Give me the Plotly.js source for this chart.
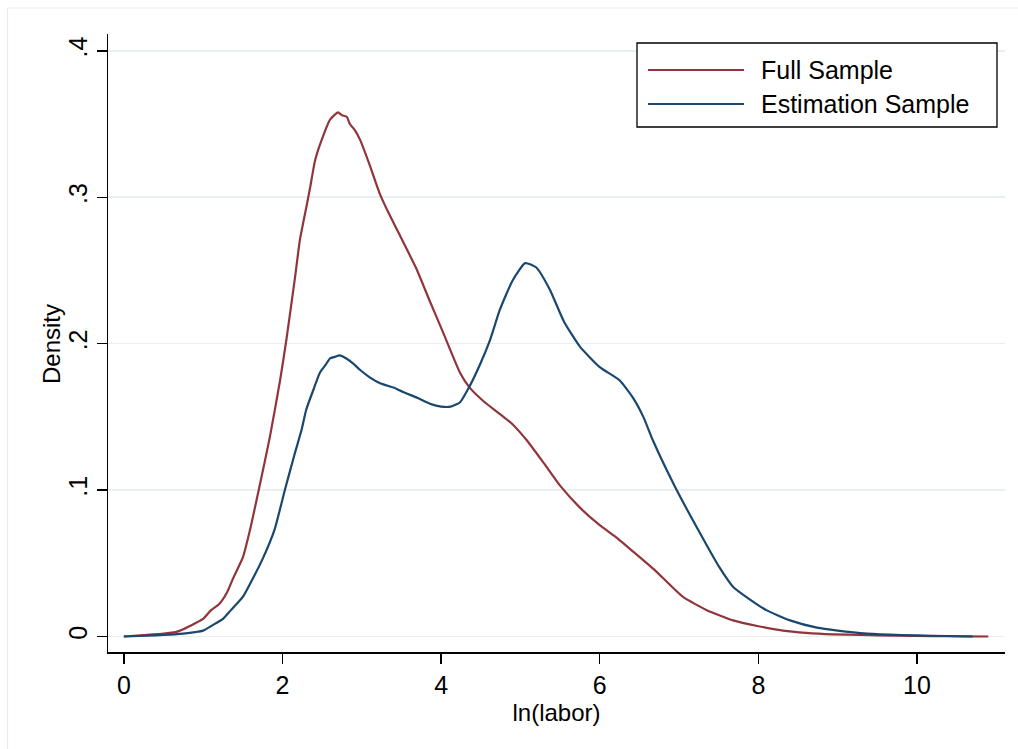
<!DOCTYPE html>
<html>
<head>
<meta charset="utf-8">
<script src="https://cdn.plot.ly/plotly-3.0.1.min.js"></script>
<style>html,body{margin:0;padding:0;background:#fff;}#chart{width:1018px;height:749px;}</style>
</head>
<body>
<div id="chart"></div>
<script>
// ---- data ----
const seriesNames = ["Full Sample", "Estimation Sample"];
const xTitle = "ln(labor)";
const yTitle = "Density";

const fullX = [0, 0.25, 0.5, 0.65, 0.75, 0.9, 1.0, 1.1, 1.2, 1.3, 1.38, 1.5, 1.6, 1.72, 1.84, 1.97, 2.05, 2.16, 2.22, 2.3, 2.35, 2.41, 2.5, 2.6, 2.7, 2.75, 2.81, 2.85, 2.91, 2.98, 3.1, 3.23, 3.35, 3.48, 3.69, 3.85, 4.03, 4.24, 4.36, 4.55, 4.74, 4.9, 5.08, 5.3, 5.5, 5.75, 6.0, 6.2, 6.42, 6.7, 7.05, 7.35, 7.68, 8.0, 8.31, 8.6, 8.94, 9.3, 9.7, 10.2, 10.6, 10.9];
const fullY = [0, 0.001, 0.002, 0.003, 0.005, 0.009, 0.012, 0.018, 0.022, 0.03, 0.04, 0.054, 0.075, 0.105, 0.136, 0.175, 0.203, 0.246, 0.271, 0.293, 0.307, 0.325, 0.340, 0.353, 0.358, 0.356, 0.355, 0.350, 0.346, 0.339, 0.322, 0.302, 0.288, 0.274, 0.251, 0.230, 0.207, 0.180, 0.170, 0.160, 0.152, 0.145, 0.134, 0.118, 0.103, 0.088, 0.076, 0.068, 0.058, 0.045, 0.027, 0.018, 0.011, 0.007, 0.004, 0.0025, 0.0015, 0.001, 0.0005, 0.0002, 0.0001, 0];

const estX = [0, 0.3, 0.5, 0.75, 0.9, 1.0, 1.16, 1.25, 1.35, 1.5, 1.63, 1.75, 1.9, 2.03, 2.15, 2.24, 2.3, 2.4, 2.47, 2.55, 2.6, 2.66, 2.72, 2.8, 2.9, 2.98, 3.1, 3.23, 3.4, 3.52, 3.7, 3.86, 4.0, 4.12, 4.24, 4.36, 4.5, 4.62, 4.74, 4.9, 5.06, 5.2, 5.37, 5.55, 5.75, 6.0, 6.25, 6.42, 6.55, 6.67, 6.97, 7.26, 7.5, 7.68, 7.9, 8.1, 8.4, 8.74, 9.0, 9.37, 9.8, 10.2, 10.7];
const estY = [0, 0.0005, 0.001, 0.002, 0.003, 0.004, 0.009, 0.012, 0.018, 0.027, 0.04, 0.053, 0.073, 0.100, 0.124, 0.141, 0.155, 0.170, 0.180, 0.186, 0.190, 0.191, 0.192, 0.190, 0.186, 0.182, 0.177, 0.173, 0.170, 0.167, 0.163, 0.159, 0.157, 0.157, 0.160, 0.171, 0.187, 0.203, 0.223, 0.243, 0.255, 0.252, 0.237, 0.215, 0.198, 0.184, 0.175, 0.163, 0.150, 0.134, 0.100, 0.071, 0.048, 0.034, 0.025, 0.018, 0.011, 0.006, 0.004, 0.002, 0.001, 0.0005, 0];

const xTickVals = [0, 2, 4, 6, 8, 10];
const xTickText = ["0", "2", "4", "6", "8", "10"];
const yTickVals = [0, 0.1, 0.2, 0.3, 0.4];
const yTickText = ["0", ".1", ".2", ".3", ".4"];

const colors = ["#90353b", "#1a476f"];
const FONT = "Liberation Sans, Arial, Helvetica, sans-serif";

// ---- geometry helpers (margins in px) ----
const M = {l: 108, r: 13, t: 34, b: 97};
const W = 1018, H = 749;
const PW = W - M.l - M.r, PH = H - M.t - M.b;
const px = v => (v - M.l) / PW;
const py = v => (H - M.b - v) / PH;

const traces = [
  {x: fullX, y: fullY, name: seriesNames[0], type: "scatter", mode: "lines",
   line: {color: colors[0], width: 2.2, shape: "spline", smoothing: 0.5}, showlegend: false, hoverinfo: "skip"},
  {x: estX, y: estY, name: seriesNames[1], type: "scatter", mode: "lines",
   line: {color: colors[1], width: 2.2, shape: "spline", smoothing: 0.5}, showlegend: false, hoverinfo: "skip"}
];

const shapes = [
  // outer faint frame
  {type: "line", xref: "paper", yref: "paper", x0: px(7.5), x1: px(7.5), y0: py(8), y1: py(760), line: {color: "#e9ecec", width: 1.2}},
  {type: "line", xref: "paper", yref: "paper", x0: px(7.5), x1: px(1030), y0: py(8), y1: py(8), line: {color: "#e9ecec", width: 1.2}},
  // legend box
  {type: "rect", xref: "paper", yref: "paper", x0: px(637), x1: px(997), y0: py(127), y1: py(43), line: {color: "#000", width: 1.3}, fillcolor: "#fff"},
  {type: "line", xref: "paper", yref: "paper", x0: px(648), x1: px(744), y0: py(70), y1: py(70), line: {color: colors[0], width: 2.2}},
  {type: "line", xref: "paper", yref: "paper", x0: px(648), x1: px(744), y0: py(104), y1: py(104), line: {color: colors[1], width: 2.2}}
];

const annotations = [
  {xref: "paper", yref: "paper", x: px(759), y: py(70), xanchor: "left", yanchor: "middle", text: seriesNames[0], showarrow: false, font: {family: FONT, size: 25, color: "#000"}},
  {xref: "paper", yref: "paper", x: px(759), y: py(104), xanchor: "left", yanchor: "middle", text: seriesNames[1], showarrow: false, font: {family: FONT, size: 25, color: "#000"}},
  {xref: "paper", yref: "paper", x: px(52), y: py(344), xanchor: "center", yanchor: "middle", textangle: -90, text: yTitle, showarrow: false, font: {family: FONT, size: 24, color: "#000"}}
];

const layout = {
  width: W, height: H,
  margin: M,
  paper_bgcolor: "#fff", plot_bgcolor: "#fff",
  font: {family: FONT, size: 24, color: "#000"},
  showlegend: false,
  xaxis: {
    range: [-0.2, 11.11], tickvals: xTickVals, ticktext: xTickText,
    showgrid: false, zeroline: false, showline: true, linecolor: "#000", linewidth: 1.5,
    ticks: "outside", ticklen: 10, tickwidth: 1.5, tickcolor: "#000",
    tickfont: {family: FONT, size: 25}, title: {text: xTitle, font: {family: FONT, size: 24}, standoff: 6}
  },
  yaxis: {
    range: [-0.0106, 0.4115], tickvals: yTickVals, ticktext: yTickText, tickangle: -90,
    showgrid: true, gridcolor: "#e8eff1", gridwidth: 1.6, zeroline: false,
    showline: true, linecolor: "#000", linewidth: 1.5,
    ticks: "outside", ticklen: 10, tickwidth: 1.5, tickcolor: "#000",
    tickfont: {family: FONT, size: 25}
  },
  shapes: shapes,
  annotations: annotations
};

Plotly.newPlot("chart", traces, layout, {displayModeBar: false, staticPlot: true});
</script>
</body>
</html>
